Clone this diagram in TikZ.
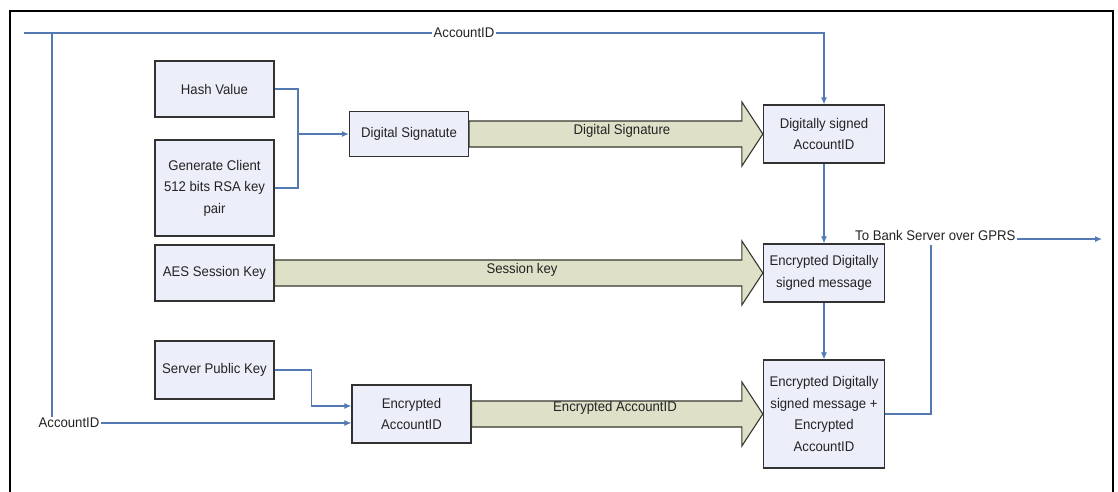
\documentclass[tikz,border=0pt]{standalone}
\usepackage{fontspec}
\setmainfont{Liberation Sans}[FakeStretch=0.94]
\usetikzlibrary{arrows.meta,calc}
\definecolor{boxfill}{RGB}{236,239,250}
\definecolor{boxedge}{RGB}{50,50,50}
\definecolor{arrfill}{RGB}{222,224,200}
\definecolor{arredge}{RGB}{55,55,45}
\definecolor{conn}{RGB}{84,122,180}
\definecolor{txt}{RGB}{35,35,35}
\newcommand{\blockarr}[2]{%
  \draw[barrow] ($(#1.east)+(0,-13)$) -- ($(#2.west)+(-21,-13)$) -- ($(#2.west)+(-21,-32)$)
    -- (#2.west) -- ($(#2.west)+(-21,32)$) -- ($(#2.west)+(-21,13)$) -- ($(#1.east)+(0,13)$) -- cycle;}
\begin{document}
\begin{tikzpicture}[x=1pt,y=-1pt,
  every node/.style={text=txt,font=\fontsize{14}{21.5}\selectfont},
  procbox/.style={draw=boxedge,line width=1.3pt,fill=boxfill,align=center,inner sep=1pt},
  barrow/.style={draw=arredge,line width=1.1pt,fill=arrfill,line join=miter},
  link/.style={draw=conn,line width=1.1pt},
  linkarr/.style={link,-{Latex[length=7pt,width=6pt]}},
  lab/.style={inner sep=1pt},
  blab/.style={inner sep=0pt}]
\useasboundingbox (0,0) rectangle (1118,491);
\fill[white] (0,0) rectangle (1118,491);
% outer frame (open at bottom)
\draw[line width=2pt,black] (10,500) -- (10,11) -- (1113,11) -- (1113,500);

% boxes
\node[procbox,minimum width=119pt,minimum height=56pt] (hash) at (214.5,89) {Hash Value};
\node[procbox,minimum width=119pt,minimum height=96pt] (gen) at (214.5,188) {Generate Client\\512 bits RSA key\\pair};
\node[procbox,minimum width=119pt,minimum height=56pt] (aes) at (214.5,273) {AES Session Key};
\node[procbox,minimum width=119pt,minimum height=58pt] (spk) at (214.5,370) {Server Public Key};
\node[procbox,minimum width=119pt,minimum height=45pt] (dsig) at (409,134) {Digital Signatute};
\node[procbox,minimum width=119pt,minimum height=58pt] (eacc) at (411.5,414) {Encrypted\\AccountID};
\node[procbox,minimum width=121pt,minimum height=58pt] (dsa) at (824,134) {Digitally signed\\AccountID};
\node[procbox,minimum width=121pt,minimum height=58pt] (edm) at (824,273) {Encrypted Digitally\\signed message};
\node[procbox,minimum width=121pt,minimum height=108pt] (fin) at (824,414) {Encrypted Digitally\\signed message +\\Encrypted\\AccountID};

% block arrows
\blockarr{dsig}{dsa}
\blockarr{aes}{edm}
\blockarr{eacc}{fin}
\node[blab] (lds) at (622,131) {Digital Signature};
\node[blab] (lsk) at (522,270) {Session key};
\node[blab] (lea) at (615,408) {Encrypted AccountID};

% AccountID top line
\coordinate (tl) at (24,33);
\coordinate (tj) at (52,33);
\node[lab] (acc1) at (464,33) {AccountID};
\draw[link] (tl) -- (acc1.west);
\draw[linkarr] (acc1.east) -| (dsa.north);
% AccountID bottom line
\node[lab] (acc2) at (69,423) {AccountID};
\draw[link] (tj) -- (tj |- acc2.north);
\draw[linkarr] (acc2.east) -- (eacc.west |- acc2);

% hash + key pair -> digital signature
\coordinate (j1) at (298,134);
\draw[link] (hash.east) -| (j1);
\draw[link] (gen.east) -| (j1);
\draw[linkarr] (j1) -- (dsig.west);

% server public key -> encrypted account id
\draw[linkarr] (spk.east) -| ($(eacc.west)+(-40,-8)$) -- ($(eacc.west)+(0,-8)$);

% vertical chain
\draw[linkarr] (dsa.south) -- (edm.north);
\draw[linkarr] (edm.south) -- (fin.north);

% to bank server
\node[lab,anchor=west] (bank) at (854,235) {To Bank Server over GPRS};
\coordinate (bj) at (931,245);
\coordinate (gprs) at (1102,239);
\draw[link] (fin.east) -| (bj);
\draw[linkarr] (bank.east |- gprs) -- (gprs);
\end{tikzpicture}
\end{document}
